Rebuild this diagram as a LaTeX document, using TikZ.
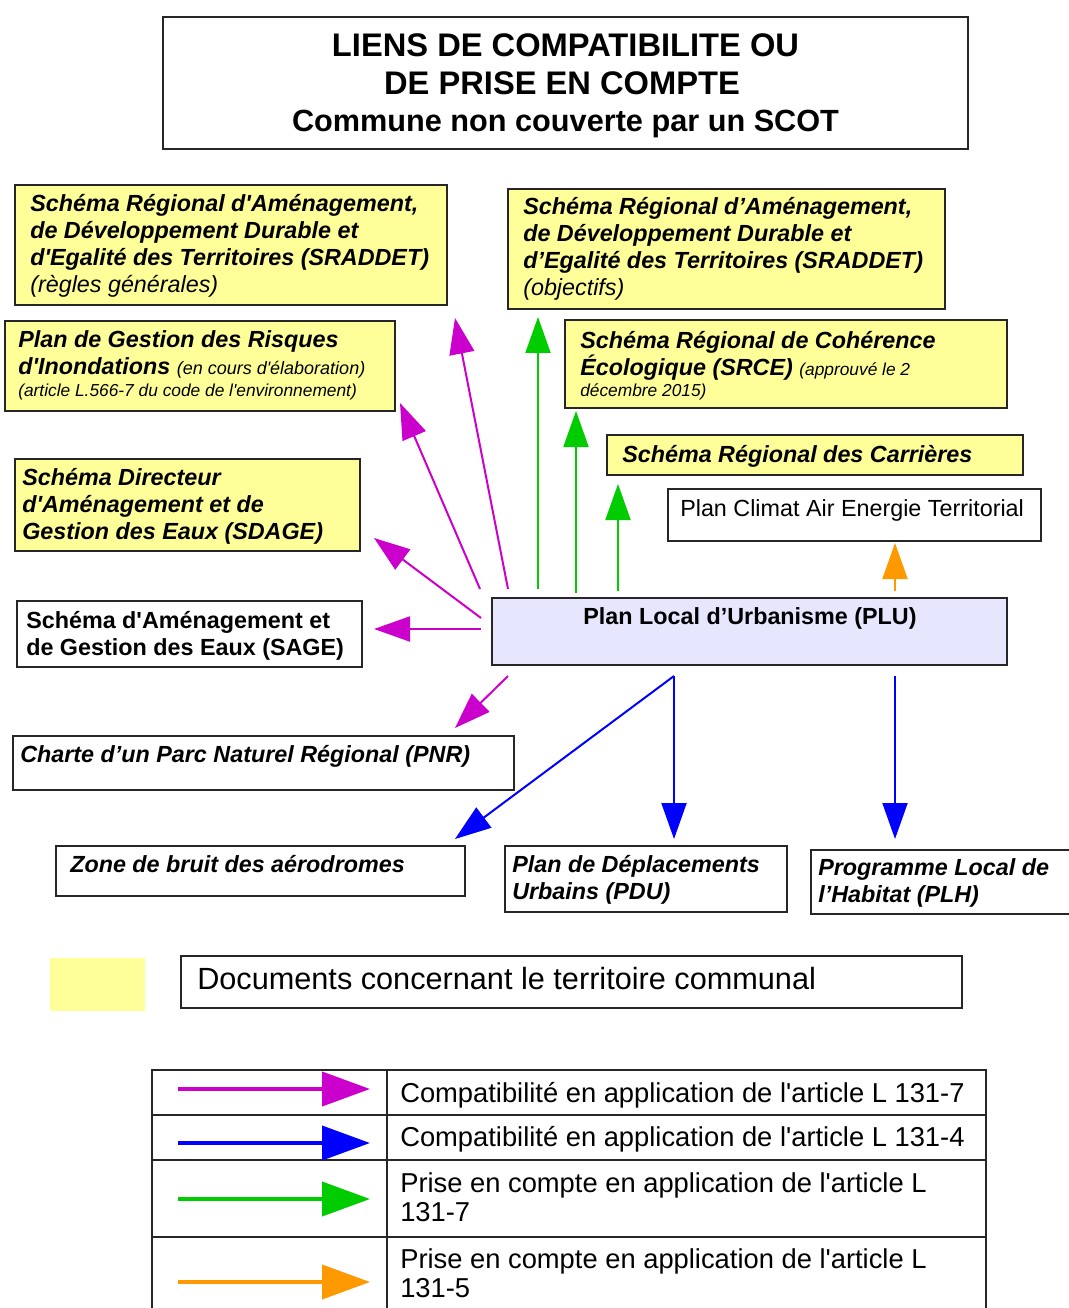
\documentclass[tikz,border=0pt]{standalone}
\usepackage{fontspec}
\newfontfamily\ar{Liberation Sans}
\usetikzlibrary{arrows.meta,fit}
\definecolor{yel}{HTML}{FFFF99}
\definecolor{lav}{HTML}{E6E6FF}
\definecolor{mag}{HTML}{CC00CC}
\definecolor{grn}{HTML}{00CC00}
\definecolor{blu}{HTML}{0000FF}
\definecolor{org}{HTML}{FF9900}
\newcommand\bix[1]{{\bfseries\itshape #1}}
\newcommand\itx[1]{{\itshape #1}}
\begin{document}
\begin{tikzpicture}[x=0.75pt,y=-0.75pt,
  box/.style={draw=black!85,line width=1.5pt,inner sep=0pt},
  ybox/.style={box,fill=yel},
  txt/.style={anchor=base west,align=left,inner sep=0pt,font=\ar\fontsize{17.5}{20.25}\selectfont},
  ctxt/.style={anchor=base,inner sep=0pt,font=\ar\fontsize{17.5}{20.25}\selectfont},
  conn/.style={line width=1.5pt,-{Triangle[length=27pt,width=18.75pt]}},
  lgarr/.style={line width=3pt,-{Triangle[length=36pt,width=25.5pt]}},
  lgtxt/.style={anchor=base west,align=left,inner sep=0pt,font=\ar\fontsize{20.5}{21.75}\selectfont}]
\useasboundingbox (0,0) rectangle (1069,1308);
\fill[white] (0,0) rectangle (1069,1308);

% title
\node[box,fit={(163,17)(968,149)}] (title) {};
\node[anchor=base,inner sep=0pt,font=\ar\bfseries\fontsize{24.5}{29}\selectfont] (t1) at (565.5,57) {LIENS DE COMPATIBILITE OU};
\node[anchor=base,inner sep=0pt,font=\ar\bfseries\fontsize{24.5}{29}\selectfont] (t2) at (562,95) {DE PRISE EN COMPTE};
\node[anchor=base,inner sep=0pt,font=\ar\bfseries\fontsize{23}{28}\selectfont] (t3) at (565.5,132) {Commune non couverte par un SCOT};

% boxes
\node[ybox,fit={(15,185)(447,305)}] (A) {};
\node[ybox,fit={(5,321)(395,411)}] (B) {};
\node[ybox,fit={(15,459)(360,551)}] (C) {};
\node[box,fit={(17,601)(362,667)}] (D) {};
\node[box,fit={(13,736)(514,790)}] (E) {};
\node[ybox,fit={(508,189)(945,309)}] (F) {};
\node[ybox,fit={(565,320)(1007,408)}] (G) {};
\node[ybox,fit={(607,435)(1023,475)}] (H) {};
\node[box,fit={(668,489)(1041,541)}] (I) {};
\node[box,fill=lav,fit={(492,598)(1007,665)}] (plu) {};
\node[box,fit={(56,846)(465,896)}] (Z) {};
\node[box,fit={(505,846)(787,912)}] (PDU) {};
\node[box,fit={(811,850)(1075,914)}] (PLH) {};

% texts (anchored at the baseline of their last line)
\node[txt] (tA) at (30,293) {\bix{Schéma Régional d'Aménagement,}\\\bix{de Développement Durable et}\\\bix{d'Egalité des Territoires (SRADDET)}\\\itx{(règles générales)}};
\node[txt] (tB) at (18,396) {\bix{Plan de Gestion des Risques}\\\bix{d'Inondations} \itx{\fontsize{13.5}{16}\selectfont(en cours d'élaboration)}\\[-4pt]\itx{\fontsize{13}{16}\selectfont(article L.566-7 du code de l'environnement)}};
\node[txt] (tC) at (22,539) {\bix{Schéma Directeur}\\\bix{d'Aménagement et de}\\\bix{Gestion des Eaux (SDAGE)}};
\node[txt] (tD) at (26,655) {\textbf{Schéma d'Aménagement et}\\\textbf{de Gestion des Eaux (SAGE)}};
\node[txt] (tE) at (20,762) {\bix{Charte d’un Parc Naturel Régional (PNR)}};
\node[txt] (tF) at (523,296) {\bix{Schéma Régional d’Aménagement,}\\\bix{de Développement Durable et}\\\bix{d’Egalité des Territoires (SRADDET)}\\\itx{(objectifs)}};
\node[txt] (tG) at (580,397) {\bix{Schéma Régional de Cohérence}\\\bix{Écologique (SRCE)} \itx{\fontsize{13}{16}\selectfont(approuvé le 2}\\[-4pt]\itx{\fontsize{13}{16}\selectfont décembre 2015)}};
\node[txt] (tH) at (622,462) {\bix{Schéma Régional des Carrières}};
\node[txt] (tI) at (680,516) {Plan Climat Air Energie Territorial};
\node[ctxt] (tplu) at (750,624) {\bfseries Plan Local d’Urbanisme (PLU)};
\node[txt] (tZ) at (70,872) {\bix{Zone de bruit des aérodromes}};
\node[txt] (tPDU) at (512,899) {\bix{Plan de Déplacements}\\\bix{Urbains (PDU)}};
\node[txt] (tPLH) at (818,902) {\bix{Programme Local de}\\\bix{l’Habitat (PLH)}};

% connectors
\draw[conn,mag] ([shift={(17,-8)}]plu.north west) -- ([shift={(7,12)}]A.south east);
\draw[conn,mag] ([shift={(-11,-8)}]plu.north west) -- ([shift={(4,-9)}]B.south east);
\draw[conn,mag] ([shift={(-10,21)}]plu.north west) -- ([shift={(13,-14)}]C.south east);
\draw[conn,mag] ([shift={(-10,32)}]plu.north west) -- ([shift={(11,29)}]D.north east);
\draw[conn,mag] ([shift={(17,10)}]plu.south west) -- ([shift={(-60,-7)}]E.north east);
\draw[conn,grn] ([shift={(47,-8)}]plu.north west) -- ([shift={(31,7)}]F.south west);
\draw[conn,grn] ([shift={(85,-4)}]plu.north west) -- ([shift={(12,2)}]G.south west);
\draw[conn,grn] ([shift={(127,-6)}]plu.north west) -- ([shift={(12,8)}]H.south west);
\draw[conn,org] ([shift={(404,-6)}]plu.north west) -- ([shift={(228,1)}]I.south west);
\draw[conn,blu] ([shift={(183,10)}]plu.south west) -- ([shift={(-11,-6)}]Z.north east);
\draw[conn,blu] ([shift={(183,10)}]plu.south west) -- ([shift={(170,-6)}]PDU.north west);
\draw[conn,blu] ([shift={(404,10)}]plu.south west) -- ([shift={(85,-10)}]PLH.north west);

% legend
\node[fill=yel,inner sep=0pt,fit={(50,958)(145,1011)}] (lsq) {};
\node[box,fit={(181,956)(962,1008)}] (ldoc) {};
\node[anchor=base west,inner sep=0pt,font=\ar\fontsize{23}{27}\selectfont] (tdoc) at (197,989) {Documents concernant le territoire communal};

\draw[line width=1.5pt,draw=black!85] (152,1070) rectangle (986,1330);
\draw[line width=1.5pt,draw=black!85] (387,1070) -- (387,1330);
\draw[line width=1.5pt,draw=black!85] (152,1115) -- (986,1115);
\draw[line width=1.5pt,draw=black!85] (152,1160) -- (986,1160);
\draw[line width=1.5pt,draw=black!85] (152,1237) -- (986,1237);
\draw[lgarr,mag] (178,1089) -- (370,1089);
\draw[lgarr,blu] (178,1143) -- (370,1143);
\draw[lgarr,grn] (178,1199) -- (370,1199);
\draw[lgarr,org] (178,1282) -- (370,1282);
\node[lgtxt] (l1) at (400,1102) {Compatibilité en application de l'article L 131-7};
\node[lgtxt] (l2) at (400,1146) {Compatibilité en application de l'article L 131-4};
\node[lgtxt] (l3) at (400,1221) {Prise en compte en application de l'article L\\131-7};
\node[lgtxt] (l4) at (400,1297) {Prise en compte en application de l'article L\\131-5};
\end{tikzpicture}
\end{document}
